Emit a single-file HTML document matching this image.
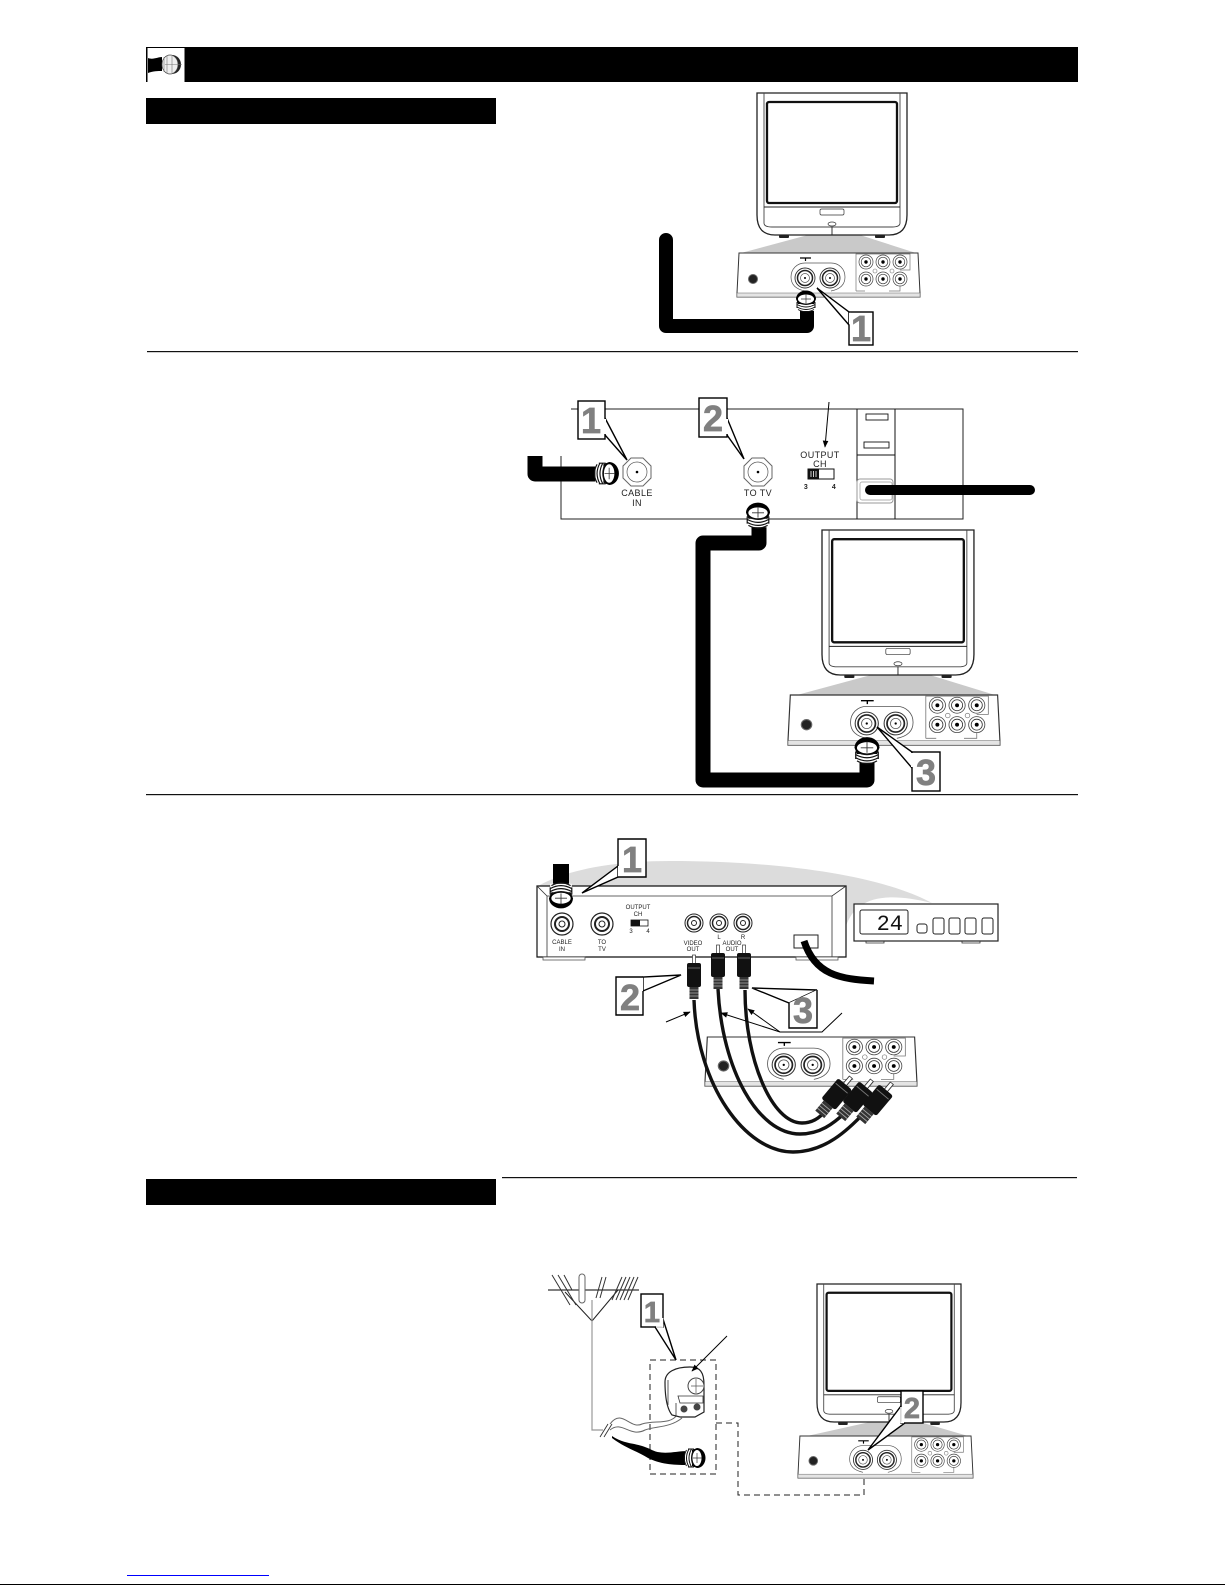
<!DOCTYPE html>
<html><head><meta charset="utf-8"><style>
html,body{margin:0;padding:0;background:#fff;width:1225px;height:1585px;overflow:hidden}
svg{display:block}
text{font-family:"Liberation Sans",sans-serif}
.n{font-weight:bold;fill:#808080;stroke:#808080;stroke-width:.7;font-size:36px;text-anchor:middle}
.c{fill:#fff;stroke:#000;stroke-width:1.4}
.t{font-size:9px;text-anchor:middle;fill:#222;letter-spacing:.4px}
.s{font-size:6px;text-anchor:middle;fill:#222}
</style></head><body>
<svg width="1225" height="1585" viewBox="0 0 1225 1585" xmlns="http://www.w3.org/2000/svg">
<defs>
<g id="tv">
<path d="M0,0H150V122Q150,142 132,142H18Q0,142 0,122Z" fill="#fff" stroke="#222" stroke-width="1.300"/>
<path d="M7,0V130Q7,134 15,134H135Q143,134 143,130V0" fill="none" stroke="#444" stroke-width=".9"/>
<rect x="10" y="9" width="130" height="101" rx="2" fill="#fff" stroke="#111" stroke-width="2.300"/>
<path d="M7,114H143M75,134V142" stroke="#222" stroke-width=".9" fill="none"/>
<rect x="63" y="116" width="24" height="6" rx="1.500" fill="#fff" stroke="#333" stroke-width=".7"/>
<ellipse cx="75" cy="131" rx="4" ry="2" fill="#fff" stroke="#333" stroke-width=".7"/>
<rect x="22" y="142" width="10" height="3" rx="1" fill="#222"/><rect x="118" y="142" width="10" height="3" rx="1" fill="#222"/>
</g>
<g id="j"><circle r="7" fill="#fff" stroke="#444" stroke-width=".7"/><circle r="4.800" fill="#fff" stroke="#333" stroke-width=".7"/><circle r="1.700" fill="#000"/></g>
<g id="rf"><circle r="10" fill="#fff" stroke="#333" stroke-width=".9"/><circle r="7.500" fill="#fff" stroke="#222" stroke-width="1.500"/><circle r="4.500" fill="#fff" stroke="#555" stroke-width=".7"/><circle r="1" fill="#000"/></g>
<g id="panel">
<path d="M2,0H181L183,40V44H0V40Z" fill="#fff" stroke="#333" stroke-width="1"/>
<path d="M0,40H183V44H0Z" fill="#e4e4e4" stroke="#666" stroke-width=".5"/>
<circle cx="16" cy="26" r="4.500" fill="#222" stroke="#666" stroke-width="1"/>
<path d="M68,38C58,36 54,31 54,24C54,16 60,10 68,10H94C102,10 108,16 108,24C108,31 104,36 94,38" fill="none" stroke="#555" stroke-width=".7"/>
<path d="M63,5H74M68.500,5V8" stroke="#000" stroke-width="1.200"/>
<use href="#rf" x="68" y="25"/><use href="#rf" x="93" y="25"/>
<path d="M119,38V1H173V17H163M119,38H128M152,38H163V32" fill="none" stroke="#777" stroke-width=".7"/>
<use href="#j" x="129" y="9"/><use href="#j" x="146" y="9"/><use href="#j" x="163" y="9"/>
<use href="#j" x="129" y="26"/><use href="#j" x="146" y="26"/><use href="#j" x="163" y="26"/>
<circle cx="138" cy="18" r="2" fill="#fff" stroke="#777" stroke-width=".6"/><circle cx="155" cy="18" r="2" fill="#fff" stroke="#777" stroke-width=".6"/>
</g>
<g id="nut">
<rect x="-9" y="0" width="18" height="11" fill="#fff"/>
<path d="M-10,-1A10,8.500 0 0 1 10,-1L8,4H-8Z" fill="#000"/>
<ellipse cx="0" cy="-1" rx="8.500" ry="5" fill="#fff" stroke="#000" stroke-width=".9"/>
<path d="M0,-6V3M-5,-1H5" stroke="#333" stroke-width=".7"/>
<path d="M-9,2Q0,7 9,2M-9,4.500Q0,9.500 9,4.500M-9,7Q0,12 9,7M-8,9.500Q0,14 8,9.500M-9,2V8M9,2V8" fill="none" stroke="#111" stroke-width="1"/>
</g>
<g id="octo"><polygon points="-6,-14 6,-14 14,-6 14,6 6,14 -6,14 -14,6 -14,-6" fill="#fff" stroke="#666" stroke-width="1"/><circle r="10" fill="#fff" stroke="#555" stroke-width=".7"/><circle r="1.300" fill="#000"/></g>
<g id="rca"><rect x="-1.500" y="-21" width="3" height="9" fill="#fff" stroke="#333" stroke-width=".7"/><rect x="-7" y="-13" width="14" height="24" rx="2" fill="#111"/><path d="M-6,-8H6" stroke="#777" stroke-width=".8"/><rect x="-4.500" y="11" width="9" height="12" fill="#333"/><path d="M-4.500,14H4.500M-4.500,17H4.500M-4.500,20H4.500" stroke="#aaa" stroke-width=".8"/></g>
<marker id="a" viewBox="0 0 10 10" refX="9" refY="5" markerWidth="9" markerHeight="7" orient="auto"><path d="M0,1L10,5L0,9Z" fill="#000"/></marker>
</defs>

<!-- header -->
<rect x="146" y="47" width="932" height="35" fill="#000"/>
<rect x="147.500" y="48" width="37" height="34" fill="#fff"/>
<path d="M148,58C153,60 158,57 162,57V71C158,71 153,71 148,73Z" fill="#000"/>
<path d="M172,55A9,9.500 0 0 1 172,74Z" fill="#222"/>
<ellipse cx="170" cy="64.500" rx="8" ry="9.500" fill="#eee" stroke="#444" stroke-width=".7"/>
<path d="M164,57V72M167,55.500V73.500M165,64.500H182M172,56V73" stroke="#777" stroke-width=".6"/>
<rect x="146" y="98" width="350" height="26" fill="#000"/>
<rect x="147" y="351" width="931" height="1.200" fill="#111"/>
<rect x="146" y="794" width="932" height="1.200" fill="#111"/>
<rect x="502" y="1177" width="575" height="1.200" fill="#111"/>
<rect x="146" y="1179" width="350" height="26" fill="#000"/>

<!-- section 1 -->
<polygon points="741,253 808,235 860,235 916,253" fill="#c9c9c9"/>
<use href="#tv" transform="translate(757,93)"/>
<use href="#panel" transform="translate(737,253)"/>
<path d="M666,240V326H807V308" fill="none" stroke="#000" stroke-width="14" stroke-linejoin="round" stroke-linecap="round"/>
<use href="#nut" transform="translate(806,300)"/>
<polygon class="c" points="817,288 849,312 849,325"/>
<rect x="849" y="312" width="24" height="33" class="c"/>
<path d="M849.700,312.800V324.300" stroke="#fff" stroke-width="1.500"/>
<text x="861" y="341" class="n">1</text>

<!-- section 2 -->
<path d="M571,409H963V519H561V456" fill="#fff" stroke="#222" stroke-width="1"/>
<path d="M857,409V519M895,409V519M857,455H895" fill="none" stroke="#111" stroke-width="1"/>
<rect x="866" y="414" width="22" height="6" fill="#fff" stroke="#111" stroke-width=".9"/>
<rect x="864" y="442" width="25" height="6" fill="#fff" stroke="#111" stroke-width=".9"/>
<rect x="857" y="479" width="36" height="24" rx="3" fill="#fff" stroke="#999" stroke-width="1"/>
<rect x="860" y="482" width="32" height="18" rx="2" fill="none" stroke="#999" stroke-width=".7"/>
<path d="M870,490H1030" stroke="#000" stroke-width="10" stroke-linecap="round"/>
<use href="#octo" x="637" y="472"/><use href="#octo" x="758" y="472"/>
<text x="637" y="496" class="t">CABLE</text><text x="637" y="506" class="t">IN</text>
<text x="758" y="496" class="t">TO TV</text>
<text x="820" y="458" class="t">OUTPUT</text><text x="820" y="467" class="t">CH</text>
<rect x="808" y="469" width="26" height="10" fill="#fff" stroke="#111"/>
<rect x="808" y="469" width="11" height="10" fill="#111"/>
<path d="M811,471V477M813.500,471V477M816,471V477" stroke="#fff" stroke-width=".8"/>
<text x="806" y="489" class="t" style="font-size:7px;font-weight:bold">3</text>
<text x="834" y="489" class="t" style="font-size:7px;font-weight:bold">4</text>
<path d="M829,402L825,447" stroke="#000" stroke-width="1" marker-end="url(#a)"/>
<path d="M535,456V474H600" fill="none" stroke="#000" stroke-width="15" stroke-linejoin="round"/>
<use href="#nut" transform="translate(608,473.500) rotate(90) scale(1.150)"/>
<polygon class="c" points="627,460 605,435 605,418"/>
<rect x="578" y="401" width="27" height="38" class="c"/><path d="M605,419V434" stroke="#fff" stroke-width="2"/>
<text x="591" y="433" class="n">1</text>
<polygon class="c" points="744,459 727,435 727,418"/>
<rect x="699" y="398" width="28" height="39" class="c"/><path d="M727,419V434" stroke="#fff" stroke-width="2"/>
<text x="713" y="431" class="n">2</text>

<polygon points="797,695 871,675 930,675 995,695" fill="#c9c9c9"/>
<use href="#tv" transform="translate(822,530) scale(1.013,1.021)"/>
<use href="#panel" transform="translate(788,695) scale(1.158,1.140)"/>
<path d="M759,525V543H703V780H867V755" fill="none" stroke="#000" stroke-width="15" stroke-linejoin="round"/>
<use href="#nut" transform="translate(758,514) scale(1.200)"/>
<use href="#nut" transform="translate(867,749) scale(1.250)"/>
<polygon class="c" points="877,727 912,752 912,768"/>
<rect x="912" y="752" width="28" height="39" class="c"/><path d="M912,753V767" stroke="#fff" stroke-width="2"/>
<text x="926" y="785" class="n">3</text>

<!-- section 3 -->
<path d="M538,886C570,868 620,861 670,861C780,861 880,875 932,903C880,890 855,900 846,926V886Z" fill="#dcdcdc"/>
<path d="M537,886H846V957H537Z" fill="#fff" stroke="#111" stroke-width="1.200"/>
<path d="M537,886L547,896H832L846,886M547,896V957M832,896V957" fill="none" stroke="#333" stroke-width=".8"/>
<rect x="543" y="957" width="42" height="3" fill="#fff" stroke="#555" stroke-width=".8"/>
<rect x="796" y="957" width="42" height="3" fill="#fff" stroke="#555" stroke-width=".8"/>
<g fill="#fff" stroke="#222">
<circle cx="562" cy="924" r="11" stroke-width="1.200"/><circle cx="562" cy="924" r="7" stroke-width="2"/><circle cx="562" cy="924" r="3" stroke-width="1"/>
<circle cx="602" cy="924" r="11" stroke-width="1.200"/><circle cx="602" cy="924" r="7" stroke-width="2"/><circle cx="602" cy="924" r="3" stroke-width="1"/>
<circle cx="694" cy="923" r="9" stroke-width="1"/><circle cx="694" cy="923" r="6.500" stroke-width="1.500"/><circle cx="694" cy="923" r="2.500" stroke-width="1"/>
<circle cx="719" cy="923" r="9" stroke-width="1"/><circle cx="719" cy="923" r="6.500" stroke-width="1.500"/><circle cx="719" cy="923" r="2.500" stroke-width="1"/>
<circle cx="743" cy="923" r="9" stroke-width="1"/><circle cx="743" cy="923" r="6.500" stroke-width="1.500"/><circle cx="743" cy="923" r="2.500" stroke-width="1"/>
</g>
<text x="638" y="909" class="s">OUTPUT</text><text x="638" y="916" class="s">CH</text>
<rect x="631" y="920" width="17" height="6" fill="#fff" stroke="#111" stroke-width=".8"/><rect x="631" y="920" width="9" height="6" fill="#111"/>
<text x="631" y="933" class="s">3</text><text x="648" y="933" class="s">4</text>
<text x="562" y="944" class="s">CABLE</text><text x="562" y="951" class="s">IN</text>
<text x="602" y="944" class="s">TO</text><text x="602" y="951" class="s">TV</text>
<text x="693" y="945" class="s">VIDEO</text><text x="693" y="951" class="s">OUT</text>
<text x="719" y="939" class="s">L</text><text x="743" y="939" class="s">R</text>
<text x="732" y="945" class="s">AUDIO</text><text x="732" y="951" class="s">OUT</text>
<rect x="794" y="935" width="24" height="13" fill="#fff" stroke="#222" stroke-width="1"/>
<path d="M804,941C815,975 840,979 874,981" fill="none" stroke="#000" stroke-width="7"/>
<rect x="553" y="864" width="16" height="22" fill="#000"/>
<use href="#nut" transform="translate(561,897) rotate(180) scale(1.200)"/>
<polygon class="c" points="582,893 618,866 618,877"/>
<path d="M618,877H646V839H618V866" class="c"/>
<text x="632" y="872" class="n">1</text>
<rect x="854" y="904" width="144" height="37" fill="#fff" stroke="#222" stroke-width="1.200"/>
<rect x="860" y="910" width="48" height="24" rx="2" fill="#fff" stroke="#222" stroke-width="1"/>
<text x="903" y="930" text-anchor="end" style="font-size:22px;font-family:'Liberation Mono',monospace" fill="#111">24</text>
<g fill="#fff" stroke="#222" stroke-width="1"><rect x="917" y="924" width="10" height="9" rx="2.500"/><rect x="933" y="918" width="11" height="16" rx="2"/><rect x="949" y="918" width="11" height="16" rx="2"/><rect x="965" y="918" width="11" height="16" rx="2"/><rect x="982" y="918" width="11" height="16" rx="2"/></g>
<path d="M866,941V943H884V941M962,941V943H980V941" fill="none" stroke="#333" stroke-width=".8"/>

<use href="#panel" transform="translate(705,1037) scale(1.158,1.115)"/>
<path d="M694,1000C697,1085 745,1152 793,1152C825,1152 848,1130 865,1112" fill="none" stroke="#111" stroke-width="3.400"/>
<path d="M718,989C722,1070 758,1134 800,1134C820,1134 833,1124 846,1112" fill="none" stroke="#111" stroke-width="3.400"/>
<path d="M745,990C745,1060 772,1123 802,1123C812,1123 820,1118 826,1110" fill="none" stroke="#111" stroke-width="3.400"/>
<use href="#rca" transform="translate(694,976)"/>
<use href="#rca" transform="translate(718,966)"/>
<use href="#rca" transform="translate(744,966)"/>
<use href="#rca" transform="translate(836,1095) rotate(40) scale(1.300,1.100)"/>
<use href="#rca" transform="translate(857,1098) rotate(40) scale(1.300,1.100)"/>
<use href="#rca" transform="translate(877,1101) rotate(40) scale(1.300,1.100)"/>
<polygon class="c" points="681,975 643,977 643,991"/>
<path d="M643,991V1015H616V977H643" class="c"/>
<text x="630" y="1010" class="n">2</text>
<polygon class="c" points="752,988 817,990 789,1003"/>
<path d="M789,1003V1028H817V990" class="c"/>
<text x="803" y="1023" class="n">3</text>
<path d="M780,1032H822L842,1013" fill="none" stroke="#000" stroke-width="1"/>
<path d="M780,1032L748,1009" stroke="#000" stroke-width="1" marker-end="url(#a)"/>
<path d="M780,1032L721,1013" stroke="#000" stroke-width="1" marker-end="url(#a)"/>
<path d="M666,1022L690,1012" stroke="#000" stroke-width="1" marker-end="url(#a)"/>

<!-- section 4 -->
<path d="M548,1290H639" stroke="#000" stroke-width="1"/>
<path d="M592,1321L565,1292M592,1321L618,1290" fill="none" stroke="#222" stroke-width="1"/>
<path d="M552,1275L570,1305M558,1275L576,1305M564,1275L572,1290M602,1277L596,1298M606,1277L600,1298M622,1277L612,1300M626,1277L616,1300M630,1277L620,1300M634,1277L624,1300M638,1277L628,1300" stroke="#333" stroke-width="1"/>
<rect x="579" y="1274" width="6" height="29" rx="3" fill="#fff" stroke="#666" stroke-width="1"/>
<path d="M592,1300V1430H603" fill="none" stroke="#999" stroke-width="1.200"/>
<path d="M600,1437L608,1424M604,1437L612,1424" stroke="#333" stroke-width=".9"/>
<path d="M650,1360H716V1474H650Z" fill="none" stroke="#222" stroke-width="1" stroke-dasharray="6,4"/>
<path d="M716,1423H738V1495H864V1467" fill="none" stroke="#222" stroke-width="1" stroke-dasharray="6,4"/>
<path d="M610,1424C622,1408 630,1430 642,1424C655,1420 670,1425 677,1415M610,1430C622,1420 630,1438 645,1430C655,1426 670,1428 682,1418" fill="none" stroke="#666" stroke-width="1"/>
<path d="M612,1436C625,1445 635,1442 650,1449C662,1456 675,1451 688,1451V1465C672,1465 660,1464 648,1458C635,1450 625,1448 612,1438Z" fill="#000"/>
<use href="#nut" transform="translate(696,1458) rotate(90)"/>
<path d="M665,1382C665,1372 675,1367 690,1367C700,1367 704,1372 704,1385V1412L695,1417H680L672,1415C668,1410 665,1400 665,1382Z" fill="#fff" stroke="#222" stroke-width="1.200"/>
<circle cx="696" cy="1386" r="8" fill="#fff" stroke="#444" stroke-width="1"/>
<path d="M691,1386H703M696,1379V1393" stroke="#555" stroke-width=".7"/>
<path d="M678,1396H703V1403H680ZM676,1403V1416M668,1380V1405" fill="none" stroke="#333" stroke-width=".8"/>
<circle cx="684" cy="1409" r="3.500" fill="#444"/><circle cx="697" cy="1407" r="3.500" fill="#444"/>
<polygon class="c" points="676,1360 663,1319 663,1327 655,1327"/>
<rect x="641" y="1294" width="22" height="33" class="c"/>
<path d="M656,1327H662.500V1318" stroke="#fff" stroke-width="1.500" fill="none"/>
<text x="652" y="1322" class="n" style="font-size:29px">1</text>
<path d="M727,1336L692,1371" stroke="#000" stroke-width="1" marker-end="url(#a)"/>

<polygon points="807,1436 870,1422 920,1422 968,1436" fill="#c9c9c9"/>
<use href="#tv" transform="translate(817,1284) scale(.96,.972)"/>
<use href="#panel" transform="translate(798,1436) scale(.956,.955)"/>
<polygon class="c" points="868,1450 901,1406 901,1423 905,1423"/>
<rect x="901" y="1391" width="22" height="32" class="c"/>
<path d="M901,1407V1422.500H904" stroke="#fff" stroke-width="1.500" fill="none"/>
<text x="912" y="1418" class="n" style="font-size:29px">2</text>

<rect x="127" y="1575" width="142" height="1" fill="#00f"/>
<rect x="0" y="1584" width="1225" height="1" fill="#000"/>
</svg>
</body></html>
